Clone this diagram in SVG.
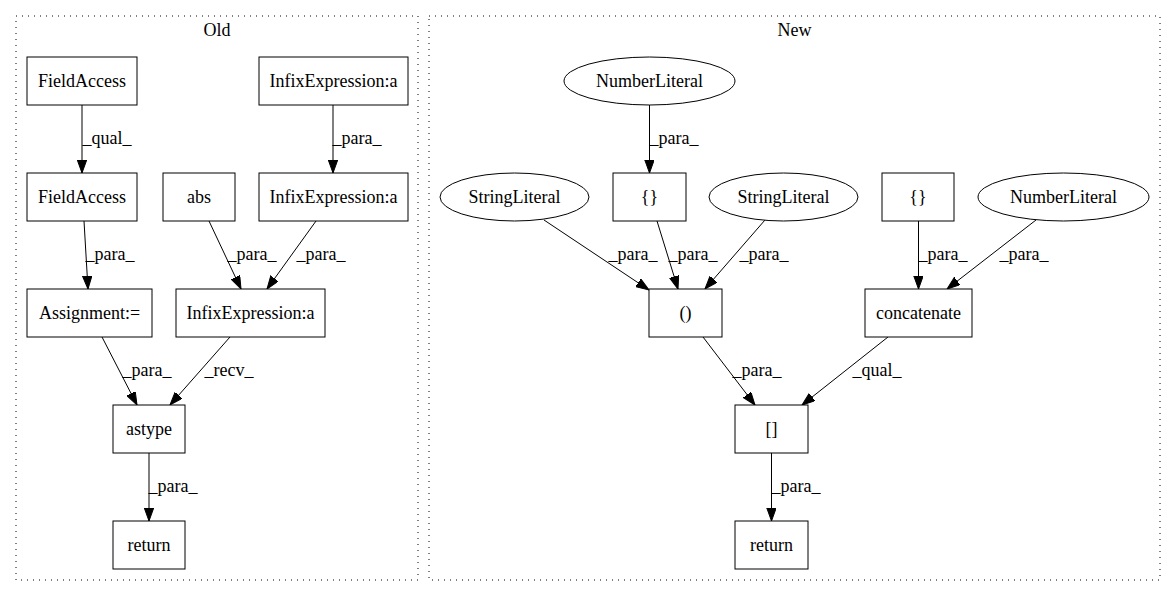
<svg xmlns="http://www.w3.org/2000/svg" width="1176" height="596" viewBox="0 0 1176 596">
<style>
  text { font-family: "Liberation Serif", "Times New Roman", serif; font-size: 18px; fill: #000; }
  .n { text-anchor: middle; }
  .cl { fill: none; stroke: #000; stroke-dasharray: 1,5; }
  .box { fill: #fff; stroke: #000; stroke-width: 1; }
  .e { stroke: #000; stroke-width: 1; fill: none; marker-end: url(#arr); }
  .lbl { text-anchor: middle; }
</style>
<defs>
  <marker id="arr" markerUnits="userSpaceOnUse" markerWidth="14" markerHeight="10" refX="13" refY="4.7" orient="auto">
    <path d="M0,0 L13,4.7 L0,9.4 z" fill="#000" stroke="#000" stroke-width="1"/>
  </marker>
</defs>
<rect width="1176" height="596" fill="#fff"/>

<g id="cluster_old">
  <rect class="cl" x="16" y="16" width="402" height="564"/>
  <text class="n" x="217" y="36">Old</text>
</g>
<g id="cluster_new">
  <rect class="cl" x="429" y="16" width="731" height="564"/>
  <text class="n" x="794.5" y="36">New</text>
</g>

<g id="connectors">
  <line class="e" x1="82" y1="105" x2="82" y2="173"/>
  <text class="lbl" x="107" y="144">_qual_</text>
  <line class="e" x1="333" y1="105" x2="333" y2="173"/>
  <text class="lbl" x="357" y="144">_para_</text>
  <line class="e" x1="84" y1="221" x2="88" y2="289"/>
  <text class="lbl" x="110" y="260">_para_</text>
  <line class="e" x1="209" y1="221" x2="241" y2="289"/>
  <text class="lbl" x="252" y="260">_para_</text>
  <line class="e" x1="316" y1="221" x2="267" y2="289"/>
  <text class="lbl" x="321" y="260">_para_</text>
  <line class="e" x1="102" y1="337" x2="137" y2="405"/>
  <text class="lbl" x="147" y="376">_para_</text>
  <line class="e" x1="230" y1="337" x2="170" y2="405"/>
  <text class="lbl" x="229" y="376">_recv_</text>
  <line class="e" x1="149" y1="453" x2="149" y2="521"/>
  <text class="lbl" x="173" y="492">_para_</text>

  <line class="e" x1="649.5" y1="105" x2="649.5" y2="173"/>
  <text class="lbl" x="674" y="144">_para_</text>
  <line class="e" x1="544" y1="220" x2="649" y2="290"/>
  <text class="lbl" x="633" y="260">_para_</text>
  <line class="e" x1="657" y1="221" x2="678" y2="289"/>
  <text class="lbl" x="693" y="260">_para_</text>
  <line class="e" x1="765" y1="220" x2="705" y2="289"/>
  <text class="lbl" x="764" y="260">_para_</text>
  <line class="e" x1="918.5" y1="221" x2="918.5" y2="289"/>
  <text class="lbl" x="943" y="260">_para_</text>
  <line class="e" x1="1036" y1="220" x2="947" y2="289"/>
  <text class="lbl" x="1024" y="260">_para_</text>
  <line class="e" x1="703" y1="337" x2="755" y2="405"/>
  <text class="lbl" x="757" y="376">_para_</text>
  <line class="e" x1="888" y1="337" x2="802" y2="405"/>
  <text class="lbl" x="877" y="376">_qual_</text>
  <line class="e" x1="771.5" y1="453" x2="771.5" y2="521"/>
  <text class="lbl" x="796" y="492">_para_</text>
</g>

<g id="old_fieldaccess1"><rect class="box" x="27" y="57" width="110" height="48"/><text class="n" x="82" y="87">FieldAccess</text></g>
<g id="old_fieldaccess2"><rect class="box" x="27" y="173" width="110" height="48"/><text class="n" x="82" y="203">FieldAccess</text></g>
<g id="old_infix1"><rect class="box" x="259" y="57" width="149" height="48"/><text class="n" x="333.5" y="87">InfixExpression:a</text></g>
<g id="old_infix2"><rect class="box" x="259" y="173" width="149" height="48"/><text class="n" x="333.5" y="203">InfixExpression:a</text></g>
<g id="old_abs"><rect class="box" x="163" y="173" width="72" height="48"/><text class="n" x="199" y="203">abs</text></g>
<g id="old_assignment"><rect class="box" x="27" y="289" width="125" height="48"/><text class="n" x="89.5" y="319">Assignment:=</text></g>
<g id="old_infix3"><rect class="box" x="176" y="289" width="149" height="48"/><text class="n" x="250.5" y="319">InfixExpression:a</text></g>
<g id="old_astype"><rect class="box" x="113" y="405" width="72" height="48"/><text class="n" x="149" y="435">astype</text></g>
<g id="old_return"><rect class="box" x="113" y="521" width="72" height="48"/><text class="n" x="149" y="551">return</text></g>

<g id="new_numlit1"><ellipse class="box" cx="649.5" cy="81" rx="85.5" ry="24"/><text class="n" x="649.5" y="87">NumberLiteral</text></g>
<g id="new_strlit1"><ellipse class="box" cx="514.5" cy="197" rx="74.5" ry="24"/><text class="n" x="514.5" y="203">StringLiteral</text></g>
<g id="new_braces1"><rect class="box" x="613" y="173" width="73" height="48"/><text class="n" x="649.5" y="203">{}</text></g>
<g id="new_strlit2"><ellipse class="box" cx="783.5" cy="197" rx="74.5" ry="24"/><text class="n" x="783.5" y="203">StringLiteral</text></g>
<g id="new_braces2"><rect class="box" x="882" y="173" width="72" height="48"/><text class="n" x="918" y="203">{}</text></g>
<g id="new_numlit2"><ellipse class="box" cx="1063.5" cy="197" rx="85.5" ry="24"/><text class="n" x="1063.5" y="203">NumberLiteral</text></g>
<g id="new_parens"><rect class="box" x="649" y="289" width="73" height="48"/><text class="n" x="685.5" y="319">()</text></g>
<g id="new_concatenate"><rect class="box" x="865" y="289" width="107" height="48"/><text class="n" x="918.5" y="319">concatenate</text></g>
<g id="new_brackets"><rect class="box" x="735" y="405" width="73" height="48"/><text class="n" x="771.5" y="435">[]</text></g>
<g id="new_return"><rect class="box" x="735" y="521" width="73" height="48"/><text class="n" x="771.5" y="551">return</text></g>
</svg>
